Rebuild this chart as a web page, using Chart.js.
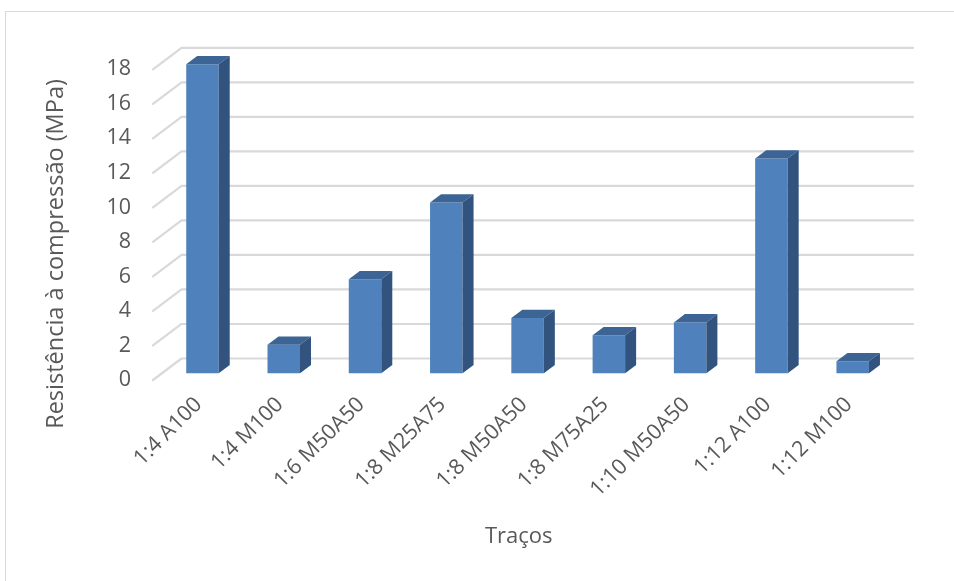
<!DOCTYPE html>
<html lang="pt">
<head>
<meta charset="utf-8">
<title>Resistência à compressão por traço</title>
<script src="https://cdn.jsdelivr.net/npm/chart.js@4/dist/chart.umd.min.js"></script>
<style>
  html, body { margin: 0; padding: 0; background: #ffffff; }
  #chart { display: block; }
</style>
</head>
<body>
<canvas id="chart" width="954" height="581"></canvas>
<script>
// Traços ensaiados e resistência à compressão (MPa)
const categories = ['1:4 A100', '1:4 M100', '1:6 M50A50', '1:8 M25A75', '1:8 M50A50',
                    '1:8 M75A25', '1:10 M50A50', '1:12 A100', '1:12 M100'];
const resistencia = [17.9, 1.65, 5.45, 9.9, 3.2, 2.2, 2.95, 12.45, 0.7];
const yMin = 0;
const yMax = 18;
const yStep = 2;

const xTitle = 'Traços';
const yTitle = 'Resistência à compressão (MPa)';

// Perspective of the 3-D box: offset from the front edge of the floor to the back wall
const WALL_DX = 28.5;
const WALL_DY = -21.5;
const BAR_FRONT = 0.31;   // depth where the bar front faces sit (fraction of wall offset)
const BAR_DEPTH = 0.386;  // depth of each column

const TEXT = '#595959';
const GRID = '#D9D9D9';
const FACE_FRONT = '#4F81BD';
const FACE_TOP = '#3C6495';
const FACE_SIDE = '#31537E';
const FONT = "'Open Sans', 'Noto Sans', sans-serif";

const columns3d = {
  id: 'columns3d',
  beforeDraw(chart) {
    const ctx = chart.ctx;
    ctx.save();
    ctx.strokeStyle = GRID;
    ctx.lineWidth = 1;
    ctx.strokeRect(5.5, 11.5, 1200, 800);
    ctx.restore();

    // vertical axis title
    ctx.save();
    ctx.translate(63, 254);
    ctx.rotate(-Math.PI / 2);
    ctx.font = '23.5px ' + FONT;
    ctx.fillStyle = TEXT;
    ctx.textAlign = 'center';
    ctx.textBaseline = 'alphabetic';
    ctx.fillText(yTitle, 0, 0);
    ctx.restore();
  },
  beforeDatasetsDraw(chart) {
    const ctx = chart.ctx;
    const ys = chart.scales.y;
    const area = chart.chartArea;
    // back-wall gridlines with the diagonal side-wall segment
    ctx.save();
    ctx.strokeStyle = GRID;
    ctx.lineWidth = 2.2;
    ctx.lineCap = 'round';
    ctx.lineJoin = 'round';
    ys.ticks.forEach(t => {
      const py = ys.getPixelForValue(t.value);
      ctx.beginPath();
      ctx.moveTo(area.left, py);
      ctx.lineTo(area.left + WALL_DX, py + WALL_DY);
      ctx.lineTo(area.right + WALL_DX, py + WALL_DY);
      ctx.stroke();
    });
    ctx.restore();
    // columns sit part-way into the depth
    ctx.save();
    ctx.translate(WALL_DX * BAR_FRONT, WALL_DY * BAR_FRONT);
  },
  afterDatasetsDraw(chart) {
    const ctx = chart.ctx;
    const dx = WALL_DX * BAR_DEPTH;
    const dy = WALL_DY * BAR_DEPTH;
    const meta = chart.getDatasetMeta(0);
    meta.data.forEach(bar => {
      const p = bar.getProps(['x', 'y', 'base', 'width'], true);
      const l = p.x - p.width / 2;
      const r = p.x + p.width / 2;
      // top face
      ctx.beginPath();
      ctx.moveTo(l, p.y);
      ctx.lineTo(r, p.y);
      ctx.lineTo(r + dx, p.y + dy);
      ctx.lineTo(l + dx, p.y + dy);
      ctx.closePath();
      ctx.fillStyle = FACE_TOP;
      ctx.fill();
      // right side face
      ctx.beginPath();
      ctx.moveTo(r, p.y);
      ctx.lineTo(r + dx, p.y + dy);
      ctx.lineTo(r + dx, p.base + dy);
      ctx.lineTo(r, p.base);
      ctx.closePath();
      ctx.fillStyle = FACE_SIDE;
      ctx.fill();
    });
    ctx.restore();
  }
};

new Chart(document.getElementById('chart'), {
  type: 'bar',
  data: {
    labels: categories,
    datasets: [{
      label: yTitle,
      data: resistencia,
      backgroundColor: FACE_FRONT,
      borderWidth: 0,
      barPercentage: 0.4,
      categoryPercentage: 1.0,
      clip: false
    }]
  },
  options: {
    responsive: false,
    animation: false,
    devicePixelRatio: 1,
    layout: { padding: { left: 0, top: 69.3, right: 69.5, bottom: 0 } },
    plugins: {
      legend: { display: false },
      tooltip: { enabled: false }
    },
    scales: {
      x: {
        grid: { display: false, drawTicks: false },
        border: { display: false },
        ticks: {
          autoSkip: false,
          minRotation: 45,
          maxRotation: 45,
          padding: 12,
          labelOffset: 5,
          color: TEXT,
          font: { family: FONT, size: 21.5 }
        },
        title: {
          display: true,
          text: xTitle,
          color: TEXT,
          font: { family: FONT, size: 22 },
          padding: { top: 0, bottom: 31 }
        },
        afterFit(scale) { scale.height = 581 - 380; }
      },
      y: {
        min: yMin,
        max: yMax,
        grid: { display: false, drawTicks: false },
        border: { display: false },
        ticks: {
          stepSize: yStep,
          padding: 22,
          color: TEXT,
          font: { family: FONT, size: 21.5 }
        },
        afterFit(scale) { scale.width = 153; }
      }
    }
  },
  plugins: [columns3d]
});
</script>
</body>
</html>
